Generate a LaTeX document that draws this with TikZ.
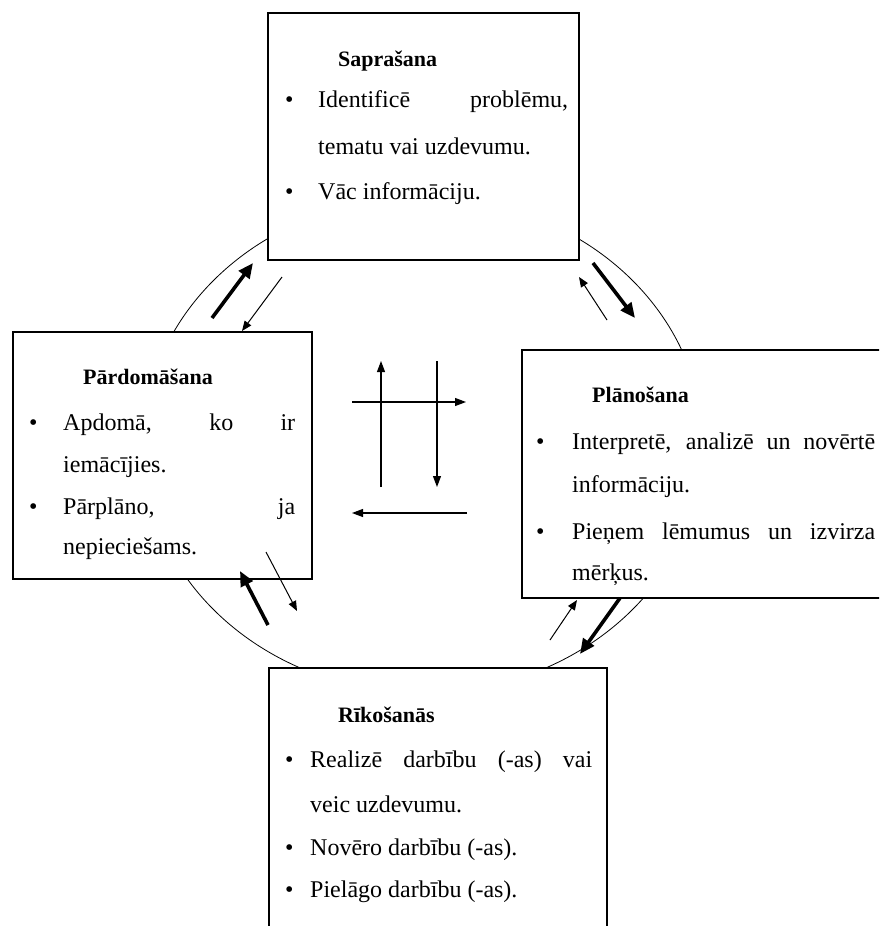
\documentclass[tikz,border=0pt]{standalone}
\usepackage{fontspec}
\setmainfont{Liberation Serif}
\usetikzlibrary{arrows.meta}
\begin{document}
\begin{tikzpicture}[x=1pt,y=-1pt,
  box/.style={draw, line width=1.4pt, fill=white, inner sep=0pt},
  txt/.style={anchor=base west, inner sep=0pt, font=\fontsize{24}{24}\selectfont},
  ttl/.style={anchor=base west, inner sep=0pt, font=\fontsize{22}{22}\selectfont\bfseries},
  thinarr/.style={line width=1pt, -{Triangle[length=10pt,width=8pt]}},
  thickarr/.style={line width=3.6pt, -{Triangle[length=15pt,width=13pt]}},
  midarr/.style={line width=1.1pt, -{Triangle[length=11pt,width=8pt]}}]
\useasboundingbox (0,0) rectangle (879,926);
\clip (0,0) rectangle (879,926);
\fill[white] (0,0) rectangle (879,926);
\draw[line width=0.8pt] (423,445) ellipse [x radius=280, y radius=248];

% boxes
\node[box, minimum width=311pt, minimum height=247pt] (sap) at (423.5,136.5) {};
\node[box, minimum width=299pt, minimum height=247pt] (par) at (162.5,455.5) {};
\node[box, minimum width=373pt, minimum height=248pt] (pla) at (708.5,474) {};
\node[box, minimum width=338pt, minimum height=277pt] (rik) at (438,806.5) {};

% Saprasana
\node[ttl] (t1) at (338,66) {Saprašana};
\node[txt] (b11) at (285,107) {\textbullet};
\node[txt] (l11) at (318,107) {\makebox[250pt][s]{Identificē problēmu,}};
\node[txt] (l12) at (318,154) {tematu vai uzdevumu.};
\node[txt] (b12) at (285,199) {\textbullet};
\node[txt] (l13) at (318,199) {Vāc informāciju.};

% Pardomasana
\node[ttl] (t2) at (83,384) {Pārdomāšana};
\node[txt] (b21) at (29,430) {\textbullet};
\node[txt] (l21) at (63,430) {\makebox[232pt][s]{Apdomā, ko ir}};
\node[txt] (l22) at (63,472) {iemācījies.};
\node[txt] (b22) at (29,514) {\textbullet};
\node[txt] (l23) at (63,514) {\makebox[232pt][s]{Pārplāno, ja}};
\node[txt] (l24) at (63,554) {nepieciešams.};

% Planosana
\node[ttl] (t3) at (592,402) {Plānošana};
\node[txt] (b31) at (536,449) {\textbullet};
\node[txt] (l31) at (572,449) {\makebox[303pt][s]{Interpretē, analizē un novērtē}};
\node[txt] (l32) at (572,492) {informāciju.};
\node[txt] (b32) at (536,539) {\textbullet};
\node[txt] (l33) at (572,539) {\makebox[303pt][s]{Pieņem lēmumus un izvirza}};
\node[txt] (l34) at (572,580) {mērķus.};

% Rikosanas
\node[ttl] (t4) at (338,722) {Rīkošanās};
\node[txt] (b41) at (285,767) {\textbullet};
\node[txt] (l41) at (310,767) {\makebox[282pt][s]{Realizē darbību (-as) vai}};
\node[txt] (l42) at (310,812) {veic uzdevumu.};
\node[txt] (b42) at (285,855) {\textbullet};
\node[txt] (l43) at (310,855) {Novēro darbību (-as).};
\node[txt] (b43) at (285,897) {\textbullet};
\node[txt] (l44) at (310,897) {Pielāgo darbību (-as).};

% arrow end points
\coordinate (a1s) at (212,318); \coordinate (a1e) at (253,263);
\coordinate (a2s) at (282,277); \coordinate (a2e) at (242,331);
\coordinate (a3s) at (593,263); \coordinate (a3e) at (635,318);
\coordinate (a4s) at (607,320); \coordinate (a4e) at (579,277);
\coordinate (a5s) at (268,625); \coordinate (a5e) at (240,571);
\coordinate (a6s) at (266,552); \coordinate (a6e) at (297,611);
\coordinate (a7s) at (550,640); \coordinate (a7e) at (577,600);
\coordinate (a8s) at (620,598); \coordinate (a8e) at (580,654);
\coordinate (c1s) at (381,487); \coordinate (c1e) at (381,361);
\coordinate (c2s) at (437,361); \coordinate (c2e) at (437,487);
\coordinate (c3s) at (352,402); \coordinate (c3e) at (466,402);
\coordinate (c4s) at (467,513); \coordinate (c4e) at (352,513);

\draw[thickarr] (a1s) -- (a1e);
\draw[thinarr] (a2s) -- (a2e);
\draw[thickarr] (a3s) -- (a3e);
\draw[thinarr] (a4s) -- (a4e);
\draw[thickarr] (a5s) -- (a5e);
\draw[thinarr] (a6s) -- (a6e);
\draw[thinarr] (a7s) -- (a7e);
\draw[thickarr] (a8s) -- (a8e);
\draw[midarr] (c1s) -- (c1e);
\draw[midarr] (c2s) -- (c2e);
\draw[midarr] (c3s) -- (c3e);
\draw[midarr] (c4s) -- (c4e);
\end{tikzpicture}
\end{document}
